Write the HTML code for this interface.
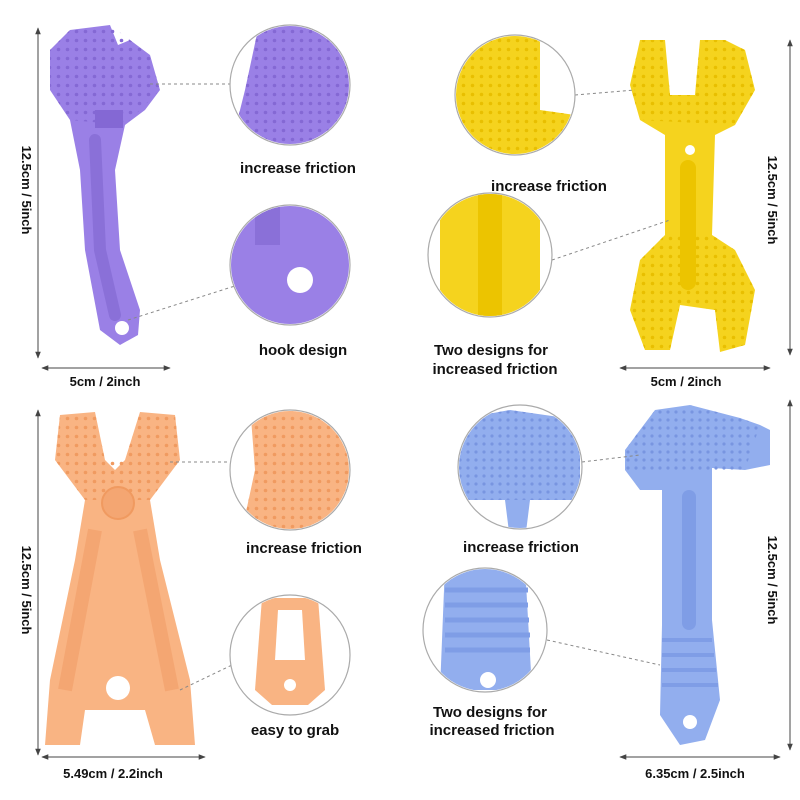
<!DOCTYPE html>
<html><head><meta charset="utf-8"><style>
html,body{margin:0;padding:0;background:#fff;}
svg{display:block;font-family:"Liberation Sans",sans-serif;}
.lbl{font-size:15px;font-weight:bold;fill:#111;text-anchor:middle;}
.dim{font-size:13px;font-weight:bold;fill:#111;text-anchor:middle;}
.ar{stroke:#444;stroke-width:1;fill:none;}
.ds{stroke:#888;stroke-width:1;stroke-dasharray:3,3;fill:none;}
.cr{fill:#fff;stroke:#aaa;stroke-width:1.2;}
</style></head><body>
<svg width="800" height="800" viewBox="0 0 800 800">
<defs>
<pattern id="dotP" width="9" height="9" patternUnits="userSpaceOnUse"><circle cx="4.5" cy="4.5" r="1.8" fill="#8468d4"/></pattern>
<pattern id="dotY" width="9" height="9" patternUnits="userSpaceOnUse"><circle cx="4.5" cy="4.5" r="1.8" fill="#e8bf00"/></pattern>
<pattern id="dotO" width="9" height="9" patternUnits="userSpaceOnUse"><circle cx="4.5" cy="4.5" r="1.8" fill="#f09a60"/></pattern>
<pattern id="dotB" width="8" height="8" patternUnits="userSpaceOnUse"><circle cx="4" cy="4" r="1.6" fill="#7895e0"/></pattern>
<marker id="ah" viewBox="0 0 10 10" refX="9" refY="5" markerWidth="7" markerHeight="7" orient="auto-start-reverse"><path d="M0,1 L10,5 L0,9 z" fill="#444"/></marker>
<clipPath id="c1"><circle cx="290" cy="85" r="59"/></clipPath>
<clipPath id="c2"><circle cx="290" cy="265" r="59"/></clipPath>
<clipPath id="c3"><circle cx="515" cy="95" r="59"/></clipPath>
<clipPath id="c4"><circle cx="490" cy="255" r="61"/></clipPath>
<clipPath id="c5"><circle cx="290" cy="470" r="59"/></clipPath>
<clipPath id="c6"><circle cx="290" cy="655" r="59"/></clipPath>
<clipPath id="c7"><circle cx="520" cy="467" r="61"/></clipPath>
<clipPath id="c8"><circle cx="485" cy="630" r="61"/></clipPath>
</defs>

<!-- ===== Purple wrench ===== -->
<path d="M70,30 L110,25 L118,45 L130,40 L150,55 L160,90 L145,110 L125,125 L115,170 L120,250 L140,310 L138,335 L120,345 L100,330 L85,250 L80,170 L70,120 L50,90 L50,50 Z" fill="#9a80e6"/>
<path d="M70,30 L110,25 L150,55 L160,90 L125,125 L70,120 L50,90 L50,50 Z" fill="url(#dotP)"/>
<rect x="95" y="110" width="28" height="18" fill="#8468d4"/>
<path d="M95,140 L100,250 L115,315" stroke="#8a70d8" stroke-width="12" fill="none" stroke-linecap="round"/>
<circle cx="122" cy="328" r="7" fill="#fff"/>
<line class="ar" x1="38" y1="28" x2="38" y2="358" marker-start="url(#ah)" marker-end="url(#ah)"/>
<text class="dim" transform="translate(22,190) rotate(90)">12.5cm / 5inch</text>
<line class="ar" x1="42" y1="368" x2="170" y2="368" marker-start="url(#ah)" marker-end="url(#ah)"/>
<text class="dim" x="105" y="386">5cm / 2inch</text>
<line class="ds" x1="150" y1="84" x2="231" y2="84"/>
<line class="ds" x1="128" y1="320" x2="238" y2="285"/>
<circle class="cr" cx="290" cy="85" r="60"/>
<g clip-path="url(#c1)"><path d="M260,20 L360,20 L360,150 L230,150 L245,90 Z" fill="#9a80e6"/><path d="M260,20 L360,20 L360,150 L230,150 L245,90 Z" fill="url(#dotP)"/></g>
<text class="lbl" x="298" y="173">increase friction</text>
<circle class="cr" cx="290" cy="265" r="60"/>
<g clip-path="url(#c2)"><rect x="225" y="200" width="130" height="130" fill="#9a80e6"/><rect x="255" y="205" width="25" height="40" fill="#8a70d8"/><circle cx="300" cy="280" r="13" fill="#fff"/></g>
<text class="lbl" x="303" y="355">hook design</text>

<!-- ===== Yellow wrench ===== -->
<path d="M640,40 L665,40 L670,95 L695,95 L700,40 L725,40 L745,50 L755,90 L735,125 L715,135 L712,235 L735,250 L755,290 L745,345 L720,352 L715,310 L680,305 L670,350 L645,350 L630,310 L640,260 L665,235 L665,135 L640,120 L630,85 Z" fill="#f5d31e"/>
<path d="M640,40 L665,40 L670,95 L695,95 L700,40 L725,40 L745,50 L755,90 L735,125 L640,120 L630,85 Z" fill="url(#dotY)"/>
<path d="M640,260 L665,235 L712,235 L735,250 L755,290 L745,345 L720,352 L715,310 L680,305 L670,350 L645,350 L630,310 Z" fill="url(#dotY)"/>
<rect x="680" y="160" width="16" height="130" rx="8" fill="#ecc400"/>
<circle cx="690" cy="150" r="5" fill="#fff"/>
<line class="ar" x1="790" y1="40" x2="790" y2="355" marker-start="url(#ah)" marker-end="url(#ah)"/>
<text class="dim" transform="translate(768,200) rotate(90)">12.5cm / 5inch</text>
<line class="ar" x1="620" y1="368" x2="770" y2="368" marker-start="url(#ah)" marker-end="url(#ah)"/>
<text class="dim" x="686" y="386">5cm / 2inch</text>
<line class="ds" x1="575" y1="95" x2="635" y2="90"/>
<line class="ds" x1="552" y1="260" x2="670" y2="220"/>
<circle class="cr" cx="515" cy="95" r="60"/>
<g clip-path="url(#c3)"><path d="M455,30 L540,30 L540,110 L575,115 L575,160 L455,160 Z" fill="#f5d31e"/><path d="M455,30 L540,30 L540,110 L575,115 L575,160 L455,160 Z" fill="url(#dotY)"/></g>
<text class="lbl" x="549" y="191">increase friction</text>
<circle class="cr" cx="490" cy="255" r="62"/>
<g clip-path="url(#c4)"><rect x="440" y="190" width="100" height="130" fill="#f5d31e"/><rect x="478" y="190" width="24" height="130" fill="#ecc400"/></g>
<text class="lbl" x="491" y="355">Two designs for</text>
<text class="lbl" x="495" y="374">increased friction</text>

<!-- ===== Orange pliers ===== -->
<path d="M60,415 L95,412 L105,460 L115,470 L125,460 L140,412 L175,415 L180,460 L150,500 L160,560 L190,680 L195,745 L155,745 L145,710 L85,710 L80,745 L45,745 L50,680 L75,560 L85,500 L55,460 Z" fill="#f9b483"/>
<path d="M60,415 L95,412 L105,460 L125,460 L140,412 L175,415 L180,460 L150,500 L85,500 L55,460 Z" fill="url(#dotO)"/>
<circle cx="118" cy="503" r="16" fill="#f4a672" stroke="#f09a60" stroke-width="2"/>
<path d="M95,530 L65,690 M140,530 L172,690" stroke="#f4a672" stroke-width="14" fill="none"/>
<circle cx="118" cy="688" r="12" fill="#fff"/>
<line class="ar" x1="38" y1="410" x2="38" y2="755" marker-start="url(#ah)" marker-end="url(#ah)"/>
<text class="dim" transform="translate(22,590) rotate(90)">12.5cm / 5inch</text>
<line class="ar" x1="42" y1="757" x2="205" y2="757" marker-start="url(#ah)" marker-end="url(#ah)"/>
<text class="dim" x="113" y="778">5.49cm / 2.2inch</text>
<line class="ds" x1="170" y1="462" x2="231" y2="462"/>
<line class="ds" x1="180" y1="690" x2="232" y2="665"/>
<circle class="cr" cx="290" cy="470" r="60"/>
<g clip-path="url(#c5)"><path d="M250,405 L360,405 L360,540 L240,540 L255,470 Z" fill="#f9b483"/><path d="M250,405 L360,405 L360,540 L240,540 L255,470 Z" fill="url(#dotO)"/></g>
<text class="lbl" x="304" y="553">increase friction</text>
<circle class="cr" cx="290" cy="655" r="60"/>
<g clip-path="url(#c6)"><path d="M262,598 L318,598 L325,690 L308,705 L272,705 L255,690 Z" fill="#f9b483"/><path d="M278,610 L302,610 L305,660 L275,660 Z" fill="#fff"/><circle cx="290" cy="685" r="6" fill="#fff"/></g>
<text class="lbl" x="295" y="735">easy to grab</text>

<!-- ===== Blue hammer ===== -->
<path d="M655,410 L690,405 L740,418 L760,425 L770,430 L770,465 L745,470 L712,468 L712,620 L720,700 L705,740 L680,745 L660,715 L662,625 L662,490 L640,490 L625,470 L625,450 Z" fill="#92aeee"/>
<path d="M655,410 L690,405 L740,418 L760,425 L745,470 L625,470 L625,450 Z" fill="url(#dotB)"/>
<rect x="682" y="490" width="14" height="140" rx="7" fill="#7f9de6"/>
<g stroke="#7f9de6" stroke-width="4"><line x1="662" y1="640" x2="712" y2="640"/><line x1="662" y1="655" x2="714" y2="655"/><line x1="662" y1="670" x2="716" y2="670"/><line x1="662" y1="685" x2="718" y2="685"/></g>
<circle cx="690" cy="722" r="7" fill="#fff"/>
<line class="ar" x1="790" y1="400" x2="790" y2="750" marker-start="url(#ah)" marker-end="url(#ah)"/>
<text class="dim" transform="translate(768,580) rotate(90)">12.5cm / 5inch</text>
<line class="ar" x1="620" y1="757" x2="780" y2="757" marker-start="url(#ah)" marker-end="url(#ah)"/>
<text class="dim" x="695" y="778">6.35cm / 2.5inch</text>
<line class="ds" x1="582" y1="462" x2="640" y2="455"/>
<line class="ds" x1="547" y1="640" x2="660" y2="665"/>
<circle class="cr" cx="520" cy="467" r="62"/>
<g clip-path="url(#c7)"><path d="M455,420 L510,410 L580,420 L580,500 L530,500 L525,540 L510,540 L505,500 L455,500 Z" fill="#92aeee"/><path d="M455,420 L510,410 L580,420 L580,500 L455,500 Z" fill="url(#dotB)"/></g>
<text class="lbl" x="521" y="552">increase friction</text>
<circle class="cr" cx="485" cy="630" r="62"/>
<g clip-path="url(#c8)"><path d="M445,565 L525,565 L532,690 L440,690 Z" fill="#92aeee"/><g stroke="#7f9de6" stroke-width="5"><line x1="445" y1="590" x2="528" y2="590"/><line x1="445" y1="605" x2="528" y2="605"/><line x1="445" y1="620" x2="529" y2="620"/><line x1="445" y1="635" x2="530" y2="635"/><line x1="445" y1="650" x2="530" y2="650"/></g><circle cx="488" cy="680" r="8" fill="#fff"/></g>
<text class="lbl" x="490" y="717">Two designs for</text>
<text class="lbl" x="492" y="735">increased friction</text>
</svg>
</body></html>
